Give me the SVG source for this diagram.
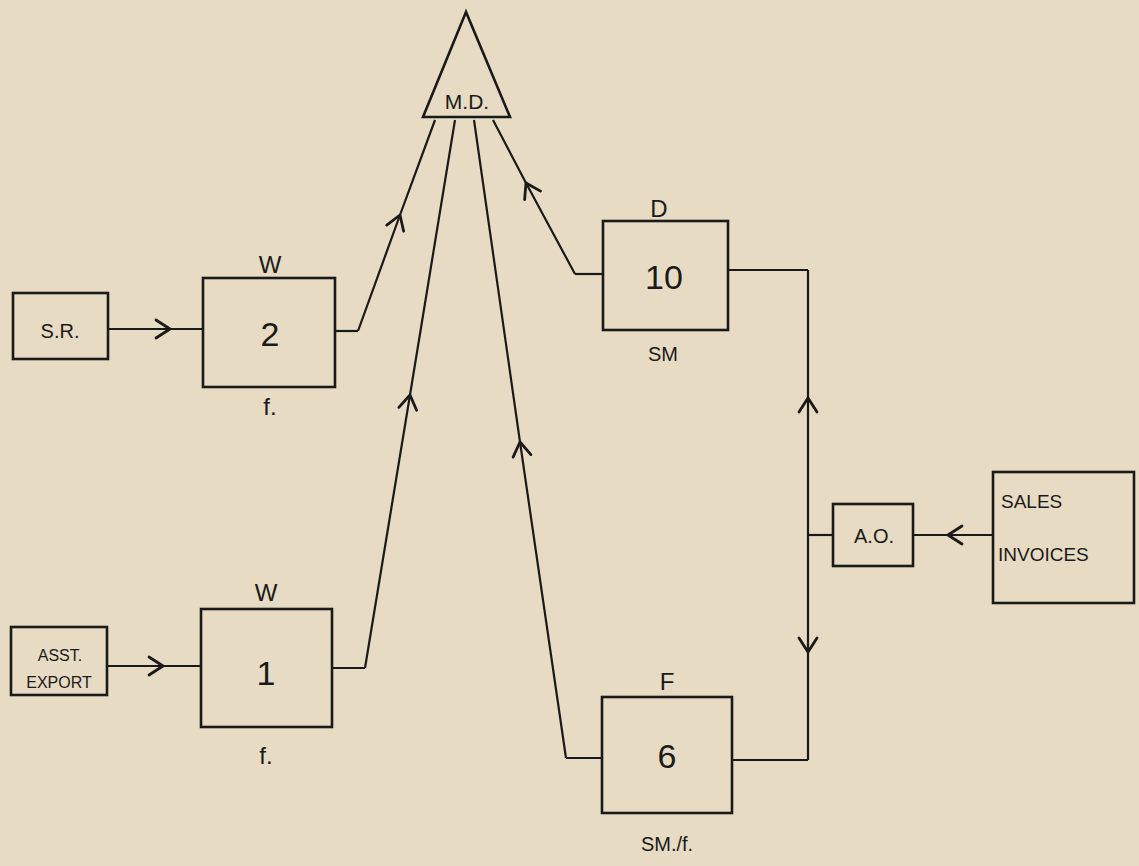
<svg xmlns="http://www.w3.org/2000/svg" width="1139" height="866" viewBox="0 0 1139 866">
<style>
.bx{fill:none;stroke:#1a1a1a;stroke-width:2.6}
.ln{fill:none;stroke:#1a1a1a;stroke-width:2.2;stroke-linejoin:miter}
.t{font-family:"Liberation Sans",Arial,sans-serif;fill:#1a1a1a;text-anchor:middle}
.big{font-size:34px}
.mid{font-size:24px}
.sm{font-size:20px}
</style>
<defs>
<marker id="chev" viewBox="-16 -11 18 22" markerWidth="18" markerHeight="22" refX="0" refY="0" markerUnits="userSpaceOnUse" orient="auto" overflow="visible">
<path d="M-14,-9 L0,0 L-14,9" fill="none" stroke="#1a1a1a" stroke-width="2.8" stroke-linecap="round" stroke-linejoin="round"/>
</marker>
</defs>
<rect x="0" y="0" width="1139" height="866" fill="#e7dbc3"/>
<g id="connectors">
<path class="ln" d="M108,329 L170,329 L203,329" marker-mid="url(#chev)"/>
<path class="ln" d="M107,666 L163,666 L201,666" marker-mid="url(#chev)"/>
<path class="ln" d="M335,331 L358,331"/>
<path class="ln" d="M358,331 L400,215 L435,120" marker-mid="url(#chev)"/>
<path class="ln" d="M332,668 L365,668"/>
<path class="ln" d="M365,668 L410,395 L455,120" marker-mid="url(#chev)"/>
<path class="ln" d="M602,758 L566,758"/>
<path class="ln" d="M566,758 L520,442 L474,120" marker-mid="url(#chev)"/>
<path class="ln" d="M603,274 L575,274"/>
<path class="ln" d="M575,274 L526,183 L493,120" marker-mid="url(#chev)"/>
<path class="ln" d="M728,270 L808,270"/>
<path class="ln" d="M732,760 L808,760"/>
<path class="ln" d="M808,535 L808,398 L808,270" marker-mid="url(#chev)"/>
<path class="ln" d="M808,535 L808,652 L808,760" marker-mid="url(#chev)"/>
<path class="ln" d="M808,535 L833,535"/>
<path class="ln" d="M993,535 L948,535 L913,535" marker-mid="url(#chev)"/>
</g>
<g id="md">
<polygon class="bx" points="466,12 423,117 510,117"/>
<text class="t" x="467" y="109" font-size="21">M.D.</text>
</g>
<g id="sr">
<rect class="bx" x="13" y="293" width="95" height="66"/>
<text class="t sm" x="60" y="338">S.R.</text>
</g>
<g id="w2">
<rect class="bx" x="203" y="278" width="132" height="109"/>
<text class="t big" x="270" y="346">2</text>
<text class="t mid" x="270" y="273">W</text>
<text class="t mid" x="270" y="415">f.</text>
</g>
<g id="asst">
<rect class="bx" x="11" y="627" width="96" height="68"/>
<text class="t" x="60" y="661" font-size="16">ASST.</text>
<text class="t" x="59" y="688" font-size="16">EXPORT</text>
</g>
<g id="w1">
<rect class="bx" x="201" y="609" width="131" height="118"/>
<text class="t big" x="266" y="685">1</text>
<text class="t mid" x="266" y="601">W</text>
<text class="t mid" x="266" y="764">f.</text>
</g>
<g id="d10">
<rect class="bx" x="603" y="221" width="125" height="109"/>
<text class="t big" x="664" y="289">10</text>
<text class="t mid" x="659" y="217">D</text>
<text class="t sm" x="663" y="361">SM</text>
</g>
<g id="f6">
<rect class="bx" x="602" y="697" width="130" height="116"/>
<text class="t big" x="667" y="768">6</text>
<text class="t mid" x="667" y="690">F</text>
<text class="t sm" x="667" y="851">SM./f.</text>
</g>
<g id="ao">
<rect class="bx" x="833" y="504" width="80" height="62"/>
<text class="t sm" x="874" y="543">A.O.</text>
</g>
<g id="sales">
<rect class="bx" x="993" y="472" width="141" height="131"/>
<text x="1001" y="508" font-family="Liberation Sans,Arial,sans-serif" font-size="19" fill="#1a1a1a">SALES</text>
<text x="998" y="561" font-family="Liberation Sans,Arial,sans-serif" font-size="19" fill="#1a1a1a">INVOICES</text>
</g>
</svg>
